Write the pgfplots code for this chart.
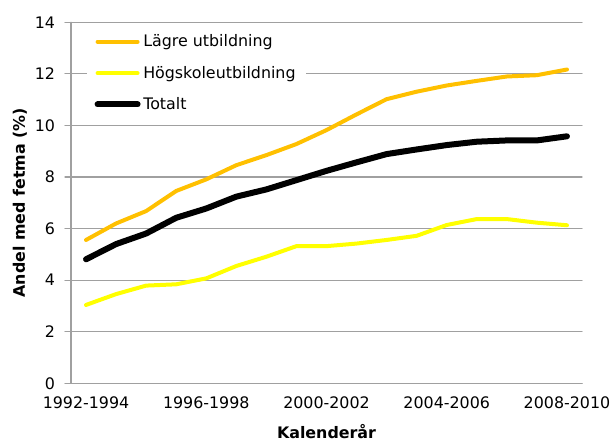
\documentclass[border=0pt]{standalone}
\usepackage{fontspec}
\setmainfont{DejaVu Sans}
\usepackage{pgfplots}
\pgfplotsset{compat=1.18}
\usepackage{pgfplotstable}
\definecolor{cOrange}{RGB}{255,192,0}
\definecolor{cYellow}{RGB}{255,255,0}
\definecolor{cGrid}{RGB}{160,160,160}
\pgfplotstableread{
x lagre hogsk tot
0.5 5.56 3.04 4.81
1.5 6.20 3.46 5.40
2.5 6.68 3.79 5.81
3.5 7.46 3.84 6.42
4.5 7.91 4.07 6.78
5.5 8.46 4.55 7.24
6.5 8.85 4.91 7.52
7.5 9.28 5.32 7.88
8.5 9.82 5.32 8.24
9.5 10.43 5.42 8.57
10.5 11.02 5.56 8.89
11.5 11.31 5.72 9.07
12.5 11.55 6.14 9.24
13.5 11.73 6.37 9.37
14.5 11.90 6.37 9.42
15.5 11.95 6.23 9.42
16.5 12.17 6.13 9.58
}\datatable
\begin{document}
\begin{tikzpicture}
\begin{axis}[
  at={(0,0)}, anchor=south west,
  scale only axis,
  width=383.25pt, height=270.75pt,
  xmin=0, xmax=17, ymin=0, ymax=14,
  axis x line=bottom, axis y line=left,
  axis line style={-, draw=cGrid, line width=0.9pt},
  ytick={0,2,...,14},
  ymajorgrids, grid style={draw=cGrid, line width=0.9pt},
  xtick={0.5,4.5,8.5,12.5,16.5},
  xticklabels={1992-1994,1996-1998,2000-2002,2004-2006,2008-2010},
  x tick style={draw=none},
  extra x ticks={0,4,8,12,16},
  extra x tick labels={\empty,\empty,\empty,\empty,\empty},
  extra x tick style={major tick length=4pt, tick style={draw=cGrid, line width=0.9pt}, tick align=outside, grid=none},
  y tick style={draw=cGrid, line width=0.9pt},
  tick align=outside, major tick length=4.5pt,
  /pgf/number format/assume math mode=true,
  tick label style={font=\fontsize{11.9}{14}\selectfont, text=black},
  xticklabel style={yshift=-2pt},
  yticklabel style={anchor=east, xshift=-4pt},
  xlabel={Kalenderår},
  ylabel={Andel med fetma (\%)},
  label style={font=\fontsize{11.9}{14}\selectfont\bfseries},
  xlabel style={at={(axis description cs:0.5,-0.135)}, anchor=center},
  ylabel style={at={(axis description cs:-0.1,0.5)}, anchor=center, rotate=0},
  legend style={draw=none, fill=white, at={(axis description cs:0.03,0.985)}, anchor=north west,
    font=\fontsize{11.9}{14}\selectfont, row sep=9pt, inner xsep=6pt, inner ysep=3pt},
  legend cell align=left,
  legend image code/.code={\draw[#1, line cap=round] (0pt,0pt) -- (30pt,0pt);},
  line join=round, line cap=round,
]
\addplot[cOrange, line width=3pt] table[x=x, y=lagre] {\datatable};
\addlegendentry{Lägre utbildning}
\addplot[cYellow, line width=3pt] table[x=x, y=hogsk] {\datatable};
\addlegendentry{Högskoleutbildning}
\addplot[black, line width=4.5pt] table[x=x, y=tot] {\datatable};
\addlegendentry{Totalt}
\end{axis}
\pgfresetboundingbox
\path[use as bounding box] (-53.25pt,-43.3pt) rectangle (405.75pt,287.5pt);
\end{tikzpicture}
\end{document}
